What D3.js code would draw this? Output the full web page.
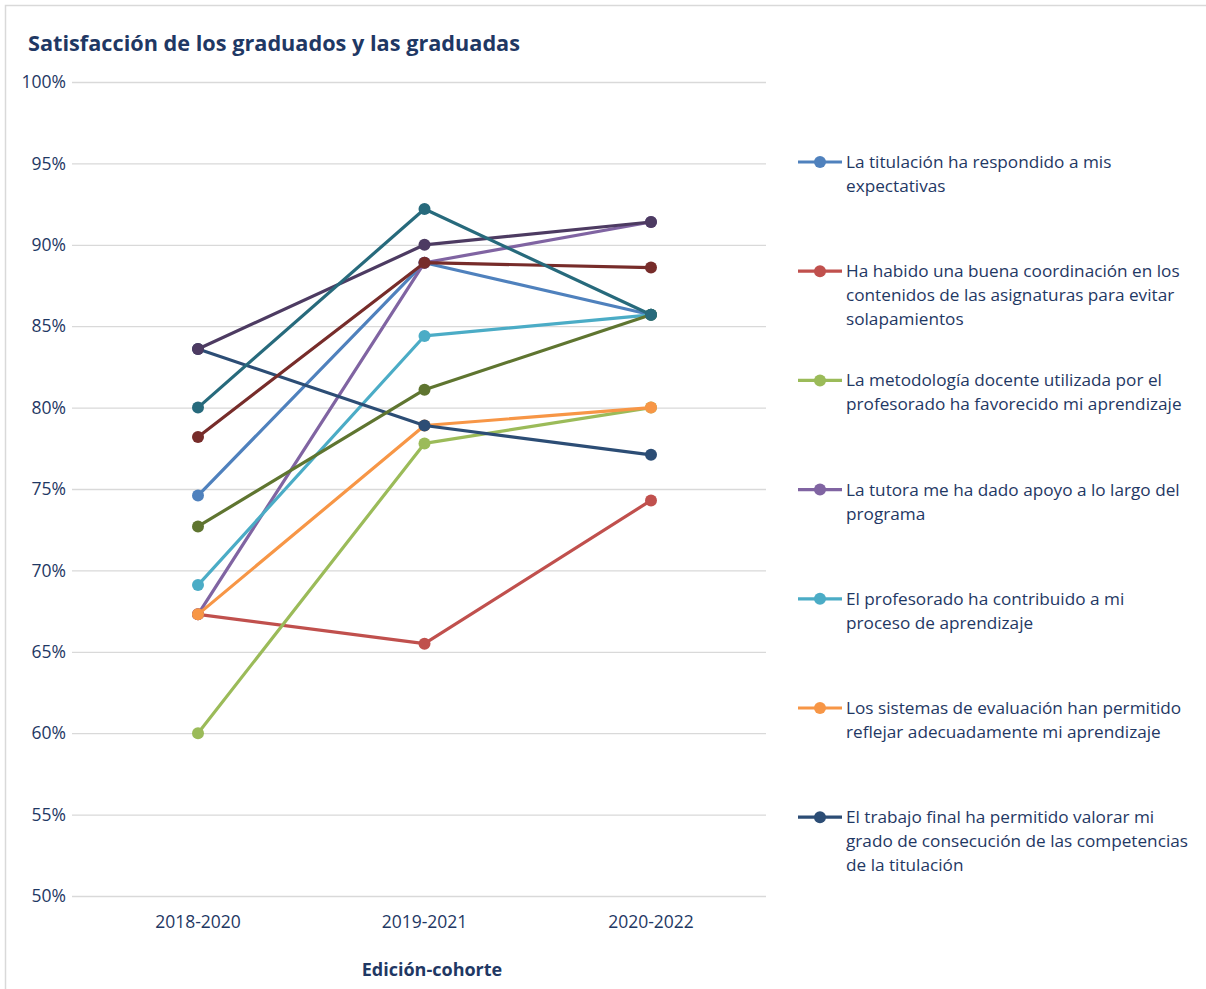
<!DOCTYPE html>
<html>
<head>
<meta charset="utf-8">
<script src="https://cdn.jsdelivr.net/npm/d3@7"></script>
<style>
  body { margin: 0; background: #fff; }
  text { font-family: "Open Sans", sans-serif; fill: #1f3864; }
</style>
</head>
<body>
<div id="chart"></div>
<script>
// categories on the x axis
var cohorts = ["2018-2020", "2019-2021", "2020-2022"];
var yTicks = [0.50, 0.55, 0.60, 0.65, 0.70, 0.75, 0.80, 0.85, 0.90, 0.95, 1.00];

// legend labels (only the first seven are shown in the legend)
var labels = [
  "La titulación ha respondido a mis|expectativas",
  "Ha habido una buena coordinación en los|contenidos de las asignaturas para evitar|solapamientos",
  "La metodología docente utilizada por el|profesorado ha favorecido mi aprendizaje",
  "La tutora me ha dado apoyo a lo largo del|programa",
  "El profesorado ha contribuido a mi|proceso de aprendizaje",
  "Los sistemas de evaluación han permitido|reflejar adecuadamente mi aprendizaje",
  "El trabajo final ha permitido valorar mi|grado de consecución de las competencias|de la titulación",
  null, null, null, null
];
var colors = ["#4f81bd", "#c0504d", "#9bbb59", "#8064a2", "#4bacc6", "#f79646",
              "#2c4d75", "#772c2a", "#5f7530", "#4d3b62", "#276a7c"];

// series values (share of satisfied graduates)
var s1  = [0.746, 0.889, 0.857];
var s2  = [0.673, 0.655, 0.743];
var s3  = [0.600, 0.778, 0.800];
var s4  = [0.673, 0.889, 0.914];
var s5  = [0.691, 0.844, 0.857];
var s6  = [0.673, 0.789, 0.800];
var s7  = [0.836, 0.789, 0.771];
var s8  = [0.782, 0.889, 0.886];
var s9  = [0.727, 0.811, 0.857];
var s10 = [0.836, 0.900, 0.914];
var s11 = [0.800, 0.922, 0.857];
var seriesValues = [s1, s2, s3, s4, s5, s6, s7, s8, s9, s10, s11];

var width = 1206, height = 989;
var plotLeft = 72, plotRight = 766, plotTop = 82, plotBottom = 896;

var svg = d3.select('#chart')
  .append('svg')
  .attr('width', width)
  .attr('height', height);

// outer frame
svg.append('path')
  .attr('d', 'M5.5,' + height + 'V5.5H' + width)
  .attr('fill', 'none')
  .attr('stroke', '#d9d9d9')
  .attr('stroke-width', 1.5);

svg.append('text')
  .attr('x', 28).attr('y', 51)
  .style('font-size', '21px')
  .style('font-weight', 'bold')
  .attr('textLength', 492)
  .attr('lengthAdjust', 'spacingAndGlyphs')
  .text('Satisfacción de los graduados y las graduadas');

var x = d3.scalePoint().domain(cohorts).range([198, 651]);
var y = d3.scaleLinear().domain([0.5, 1]).range([plotBottom, plotTop]);

// gridlines
svg.append('g')
  .attr('transform', 'translate(' + plotLeft + ',0)')
  .call(d3.axisLeft(y).tickValues(yTicks).tickSize(-(plotRight - plotLeft)).tickFormat(''))
  .call(function(g) { g.select('.domain').remove(); })
  .selectAll('line').attr('stroke', '#d9d9d9').attr('stroke-width', 1.3);

// y labels
svg.append('g')
  .selectAll('text')
  .data(yTicks)
  .enter()
  .append('text')
  .attr('x', 66)
  .attr('y', function(d) { return y(d); })
  .attr('dy', '0.35em')
  .attr('text-anchor', 'end')
  .style('font-size', '17.5px')
  .text(d3.format('.0%'));

// x labels
svg.append('g')
  .selectAll('text')
  .data(cohorts)
  .enter()
  .append('text')
  .attr('x', function(d) { return x(d); })
  .attr('y', 928)
  .attr('text-anchor', 'middle')
  .style('font-size', '17.5px')
  .text(function(d) { return d; });

svg.append('text')
  .attr('x', 432).attr('y', 976)
  .attr('text-anchor', 'middle')
  .style('font-size', '18px')
  .style('font-weight', 'bold')
  .text('Edición-cohorte');

var line = d3.line()
  .x(function(d, i) { return x(cohorts[i]); })
  .y(function(d) { return y(d); });

seriesValues.forEach(function(vals, k) {
  var g = svg.append('g');
  g.append('path')
    .attr('d', line(vals))
    .attr('fill', 'none')
    .attr('stroke', colors[k])
    .attr('stroke-width', 3.2)
    .attr('stroke-linejoin', 'round');
  g.selectAll('circle')
    .data(vals)
    .enter()
    .append('circle')
    .attr('cx', function(d, i) { return x(cohorts[i]); })
    .attr('cy', function(d) { return y(d); })
    .attr('r', 6)
    .attr('fill', colors[k]);
});

// legend
var legend = svg.append('g');
labels.forEach(function(lab, k) {
  if (!lab) return;
  var ly = 162 + k * 109.2;
  legend.append('line')
    .attr('x1', 798).attr('x2', 842)
    .attr('y1', ly).attr('y2', ly)
    .attr('stroke', colors[k]).attr('stroke-width', 3.2);
  legend.append('circle')
    .attr('cx', 820).attr('cy', ly).attr('r', 6)
    .attr('fill', colors[k]);
  var t = legend.append('text')
    .attr('x', 846).attr('y', ly)
    .style('font-size', '17.2px');
  lab.split('|').forEach(function(part, j) {
    t.append('tspan')
      .attr('x', 846)
      .attr('dy', j === 0 ? '0.35em' : '24px')
      .text(part);
  });
});
</script>
</body>
</html>
